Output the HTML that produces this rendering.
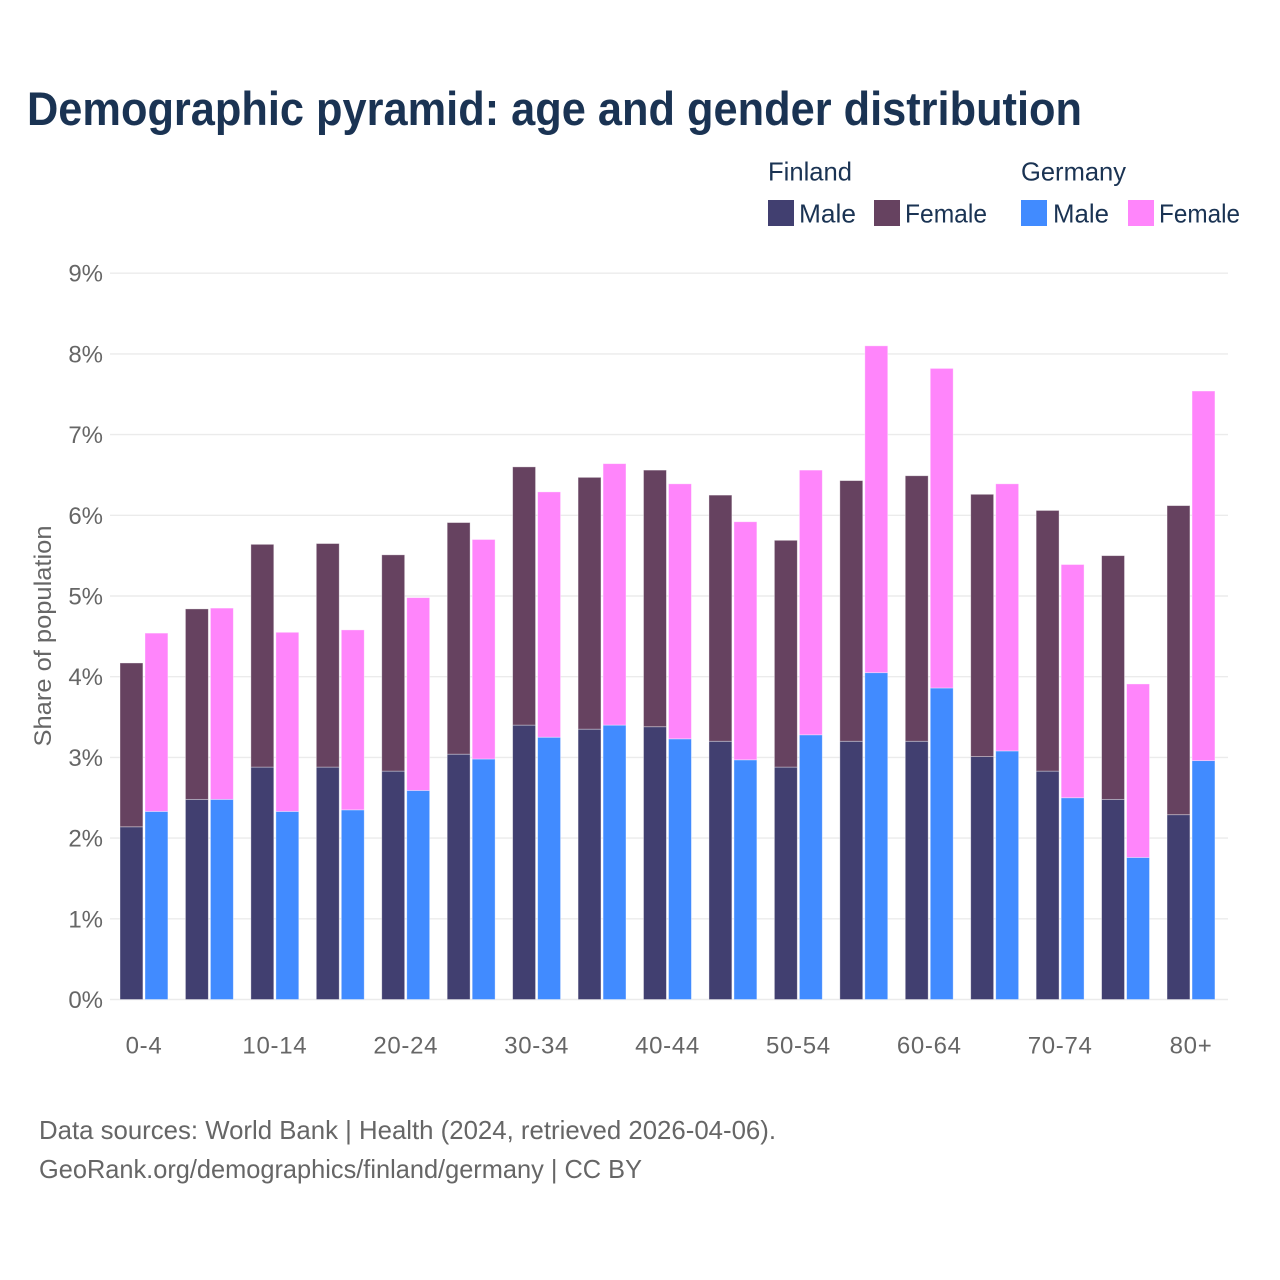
<!DOCTYPE html>
<html lang="en">
<head>
<meta charset="utf-8">
<title>Demographic pyramid</title>
<style>
html,body{margin:0;padding:0;background:#fff;}
svg{display:block;font-family:"Liberation Sans",sans-serif;}
</style>
</head>
<body>
<svg id="chart" width="1280" height="1280" viewBox="0 0 1280 1280" xmlns="http://www.w3.org/2000/svg">
  <rect width="1280" height="1280" fill="#ffffff"/>
  <text x="27" y="125" font-size="47" font-weight="700" fill="#1a3353" textLength="1055" lengthAdjust="spacingAndGlyphs">Demographic pyramid: age and gender distribution</text>
  <g font-size="26" fill="#1a3353">
    <text x="768" y="180.5" textLength="84" lengthAdjust="spacingAndGlyphs">Finland</text>
    <text x="1021" y="180.5" textLength="105" lengthAdjust="spacingAndGlyphs">Germany</text>
    <rect x="768" y="200" width="26" height="26" fill="#413f70"/>
    <text x="799" y="222.5" textLength="57" lengthAdjust="spacingAndGlyphs">Male</text>
    <rect x="874" y="200" width="26" height="26" fill="#664260"/>
    <text x="905" y="222.5" textLength="82" lengthAdjust="spacingAndGlyphs">Female</text>
    <rect x="1021" y="200" width="26" height="26" fill="#418bff"/>
    <text x="1053" y="222.5" textLength="56" lengthAdjust="spacingAndGlyphs">Male</text>
    <rect x="1128" y="200" width="26" height="26" fill="#ff85fb"/>
    <text x="1159" y="222.5" textLength="81" lengthAdjust="spacingAndGlyphs">Female</text>
  </g>
  <g id="grid"></g>
  <g id="yticks"></g>
  <g id="bars"></g>
  <g id="xticks"></g>
  <text transform="translate(51 636) rotate(-90)" text-anchor="middle" font-size="24" fill="#666666" textLength="221" lengthAdjust="spacingAndGlyphs">Share of population</text>
  <g font-size="26" fill="#666666">
    <text x="39" y="1139" textLength="737" lengthAdjust="spacingAndGlyphs">Data sources: World Bank | Health (2024, retrieved 2026-04-06).</text>
    <text x="39" y="1178" textLength="603" lengthAdjust="spacingAndGlyphs">GeoRank.org/demographics/finland/germany | CC BY</text>
  </g>
</svg>
<script>
var categories = ["0-4","5-9","10-14","15-19","20-24","25-29","30-34","35-39","40-44","45-49","50-54","55-59","60-64","65-69","70-74","75-79","80+"];
var finlandMale = [2.14,2.48,2.88,2.88,2.83,3.04,3.40,3.35,3.38,3.20,2.88,3.20,3.20,3.01,2.83,2.48,2.29];
var finlandFemale = [2.03,2.36,2.76,2.77,2.68,2.87,3.20,3.12,3.18,3.05,2.81,3.23,3.29,3.25,3.23,3.02,3.83];
var germanyMale = [2.33,2.48,2.33,2.35,2.59,2.98,3.25,3.40,3.23,2.97,3.28,4.05,3.86,3.08,2.50,1.76,2.96];
var germanyFemale = [2.21,2.37,2.22,2.23,2.39,2.72,3.04,3.24,3.16,2.95,3.28,4.05,3.96,3.31,2.89,2.15,4.58];
var yTicks = [0,1,2,3,4,5,6,7,8,9];

var NS = 'http://www.w3.org/2000/svg';
function yScale(v){ return 999.5 - v * 80.7; }
function xScale(i){ return 120 + i * 65.44; }
var barWidth = 22.9;
var barOffset = 25;

var gridG = document.getElementById('grid');
var yG = document.getElementById('yticks');
yTicks.forEach(function(t){
  var line = document.createElementNS(NS,'line');
  
  
  line.setAttribute('x1', 110);
  line.setAttribute('x2', 1228);
  line.setAttribute('y1', yScale(t));
  line.setAttribute('y2', yScale(t));
  line.setAttribute('stroke', '#ebebeb');
  line.setAttribute('stroke-width', '1.4');
  gridG.appendChild(line);
  var label = document.createElementNS(NS,'text');
  
  
  label.setAttribute('x', 103);
  label.setAttribute('y', yScale(t) + 8.5);
  label.setAttribute('text-anchor', 'end');
  label.setAttribute('font-size', '24');
  label.setAttribute('fill', '#666666');
  label.textContent = t + '%';
  yG.appendChild(label);
});

function addBar(parent, x, v0, v1, fill){
  var rect = document.createElementNS(NS,'rect');
  
  
  rect.setAttribute('x', x);
  rect.setAttribute('y', yScale(v1));
  rect.setAttribute('width', barWidth);
  rect.setAttribute('height', yScale(v0) - yScale(v1));
  rect.setAttribute('fill', fill);
  rect.setAttribute('stroke', '#ffffff');
  rect.setAttribute('stroke-opacity', '0.45');
  rect.setAttribute('stroke-width', '0.8');
  parent.appendChild(rect);
}

var barsG = document.getElementById('bars');
var xG = document.getElementById('xticks');
categories.forEach(function(cat, i){
  var x = xScale(i);
  addBar(barsG, x, 0, finlandMale[i], '#413f70');
  addBar(barsG, x, finlandMale[i], finlandMale[i] + finlandFemale[i], '#664260');
  addBar(barsG, x + barOffset, 0, germanyMale[i], '#418bff');
  addBar(barsG, x + barOffset, germanyMale[i], germanyMale[i] + germanyFemale[i], '#ff85fb');
  if (i % 2 === 0) {
    var label = document.createElementNS(NS,'text');
    
    
    label.setAttribute('x', x + 24);
    label.setAttribute('y', 1053.5);
    label.setAttribute('text-anchor', 'middle');
    label.setAttribute('font-size', '24');
    label.setAttribute('letter-spacing', '0.7');
    label.setAttribute('fill', '#666666');
    label.textContent = cat;
    xG.appendChild(label);
  }
});
</script>
</body>
</html>
